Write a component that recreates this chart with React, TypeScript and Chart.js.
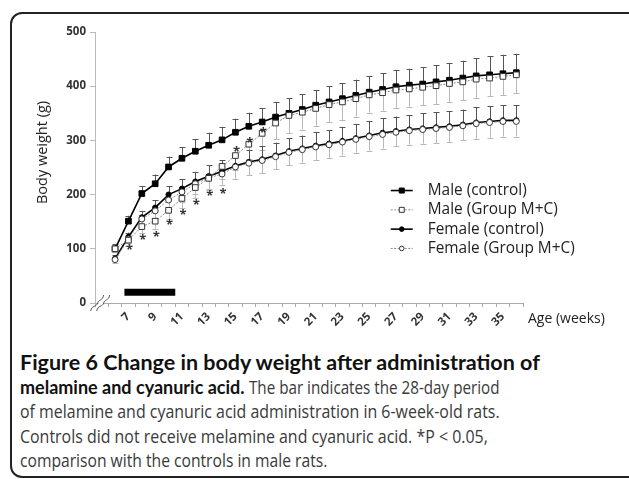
import React, { useEffect, useRef } from 'react';
import { Chart, registerables } from 'chart.js';

Chart.register(...registerables);

// ---------- data ----------
const weeks = [6, 7, 8, 9, 10, 11, 12, 13, 14, 15, 16, 17, 18, 19, 20, 21, 22, 23, 24, 25, 26, 27, 28, 29, 30, 31, 32, 33, 34, 35, 36];
const axisWeeks = [5, 6, 7, 8, 9, 10, 11, 12, 13, 14, 15, 16, 17, 18, 19, 20, 21, 22, 23, 24, 25, 26, 27, 28, 29, 30, 31, 32, 33, 34, 35, 36];
const labeledWeeks = [7, 9, 11, 13, 15, 17, 19, 21, 23, 25, 27, 29, 31, 33, 35];
const yTicks = [0, 100, 200, 300, 400, 500];

const maleControl = [100, 151, 202, 220, 251, 267, 280, 291, 301, 315, 326, 334, 343, 350, 357, 365, 371, 377, 383, 389, 394, 399, 402, 404, 408, 411, 415, 419, 421, 423, 425];
const maleControlSD = [8, 10, 14, 17, 19, 21, 22, 23, 24, 25, 25, 25, 27, 28, 28, 28, 29, 29, 29, 30, 30, 30, 30, 31, 31, 32, 32, 33, 34, 35, 35];
const maleMC = [100, 116, 141, 151, 171, 193, 213, 230, 252, 272, 293, 313, 332, 346, 352, 359, 366, 371, 377, 384, 388, 393, 395, 398, 401, 405, 408, 413, 415, 418, 421];
const maleMCSD = [6, 10, 12, 14, 16, 18, 20, 22, 24, 26, 28, 30, 30, 32, 32, 32, 32, 33, 33, 33, 33, 33, 33, 33, 34, 34, 34, 34, 34, 34, 34];
const femaleControl = [82, 122, 158, 176, 200, 211, 224, 234, 243, 253, 260, 265, 272, 280, 285, 290, 294, 299, 304, 309, 314, 317, 320, 322, 324, 326, 329, 333, 335, 337, 337];
const femaleControlSD = [6, 8, 12, 14, 16, 18, 18, 20, 20, 22, 22, 24, 24, 24, 24, 25, 25, 26, 26, 27, 27, 27, 27, 28, 28, 28, 28, 28, 28, 28, 28];
const femaleMC = [80, 118, 155, 170, 190, 205, 220, 231, 238, 251, 258, 263, 270, 278, 283, 288, 292, 297, 302, 307, 311, 315, 318, 320, 322, 324, 327, 331, 333, 335, 335];
const femaleMCSD = [6, 8, 12, 14, 16, 18, 18, 20, 20, 22, 22, 23, 23, 24, 24, 24, 25, 25, 25, 26, 26, 26, 26, 26, 27, 27, 27, 28, 28, 28, 28];

const sigWeeks = [7, 8, 9, 10, 11, 12, 13, 14, 15, 16, 17];
const sigMarkY = [103, 121, 127, 149, 167, 185, 202, 206, 283, 300, 319];

const dosingWeeks = [6.7, 10.5];
const dosingLevel = [20, 20];
const breakWeek = 5;

const FONT = "'Open Sans', 'DejaVu Sans', sans-serif";

const pts = (vals: number[]) => weeks.map((w, i) => ({ x: w, y: vals[i] }));

const overlayPlugin = {
  id: 'overlay',
  beforeDatasetsDraw(chart: any) {
    const { ctx, scales } = chart;
    const xs = scales.x, ys = scales.y;
    ctx.save();
    chart.data.datasets.forEach((ds: any) => {
      if (!ds.sd) return;
      ctx.strokeStyle = ds.sdColor;
      ctx.lineWidth = 1;
      ds.data.forEach((p: any, i: number) => {
        const px = Math.round(xs.getPixelForValue(p.x)) + 0.5;
        const py = ys.getPixelForValue(p.y);
        const pe = ys.getPixelForValue(p.y + ds.sdDir * ds.sd[i]);
        ctx.beginPath();
        ctx.moveTo(px, py);
        ctx.lineTo(px, pe);
        ctx.moveTo(px - 3, Math.round(pe) + 0.5);
        ctx.lineTo(px + 3, Math.round(pe) + 0.5);
        ctx.stroke();
      });
    });
    ctx.restore();
  },
  afterDatasetsDraw(chart: any) {
    const { ctx, scales, chartArea } = chart;
    const xs = scales.x, ys = scales.y;
    ctx.save();
    // significance asterisks
    ctx.fillStyle = '#333';
    ctx.font = `bold 13px ${FONT}`;
    ctx.textAlign = 'center';
    ctx.textBaseline = 'middle';
    sigWeeks.forEach((w, i) => {
      ctx.fillText('*', xs.getPixelForValue(w) + 1, ys.getPixelForValue(sigMarkY[i]) + 3);
    });
    // axis break marks
    const bx = xs.getPixelForValue(breakWeek);
    const by = chartArea.bottom;
    ctx.fillStyle = '#fff';
    ctx.beginPath();
    ctx.moveTo(bx - 8, by + 7);
    ctx.lineTo(bx + 2, by - 7);
    ctx.lineTo(bx + 7, by - 7);
    ctx.lineTo(bx - 3, by + 7);
    ctx.closePath();
    ctx.fill();
    ctx.strokeStyle = '#555';
    ctx.lineWidth = 1;
    [-3, 3].forEach((d) => {
      const cx = bx + d - 1;
      ctx.beginPath();
      ctx.moveTo(cx - 7, by + 8);
      ctx.bezierCurveTo(cx - 6, by + 2, cx - 1, by + 4, cx, by);
      ctx.bezierCurveTo(cx + 1, by - 4, cx + 5, by - 2, cx + 6, by - 8);
      ctx.stroke();
    });
    // axis titles
    ctx.fillStyle = '#222';
    ctx.font = `14px ${FONT}`;
    ctx.textAlign = 'left';
    ctx.textBaseline = 'middle';
    ctx.fillText('Age (weeks)', chartArea.right + 5, chartArea.bottom + 16);
    ctx.save();
    ctx.translate(43, (chartArea.top + chartArea.bottom) / 2 - 15);
    ctx.rotate(-Math.PI / 2);
    ctx.textAlign = 'center';
    ctx.font = `14.5px ${FONT}`;
    ctx.fillText('Body weight (g)', 0, 0);
    ctx.restore();
    // legend
    const lx = chartArea.left + 0.691 * chartArea.width;
    const ly0 = chartArea.top + 0.585 * (chartArea.bottom - chartArea.top);
    const rowH = 19.3;
    let row = 0;
    chart.data.datasets.forEach((ds: any) => {
      if (!ds.inLegend) return;
      const y = ly0 + row * rowH;
      row++;
      ctx.strokeStyle = ds.borderColor;
      ctx.lineWidth = ds.borderWidth;
      ctx.setLineDash(ds.borderDash || []);
      ctx.beginPath();
      ctx.moveTo(lx, y);
      ctx.lineTo(lx + 22, y);
      ctx.stroke();
      ctx.setLineDash([]);
      ctx.fillStyle = ds.pointBackgroundColor;
      ctx.strokeStyle = ds.pointBorderColor;
      ctx.lineWidth = 1;
      const mx = lx + 11;
      ctx.beginPath();
      if (ds.pointStyle === 'rect') ctx.rect(mx - 2.5, y - 2.5, 5, 5);
      else ctx.arc(mx, y, 2.3, 0, Math.PI * 2);
      ctx.fill();
      ctx.stroke();
      ctx.fillStyle = '#222';
      ctx.font = `15.4px ${FONT}`;
      ctx.textAlign = 'left';
      ctx.textBaseline = 'middle';
      ctx.fillText(ds.label, lx + 37, y);
    });
    ctx.restore();
  },
};

export default function App() {
  const canvasRef = useRef<HTMLCanvasElement | null>(null);

  useEffect(() => {
    const canvas = canvasRef.current;
    if (!canvas) return;
    const chart = new Chart(canvas, {
      type: 'line',
      data: {
        datasets: [
          {
            label: 'Male (control)', data: pts(maleControl), inLegend: true,
            sd: maleControlSD, sdDir: 1, sdColor: '#555',
            borderColor: '#000', borderWidth: 1.6, pointStyle: 'rect', pointRadius: 4,
            pointBackgroundColor: '#000', pointBorderColor: '#000', pointBorderWidth: 1, tension: 0, order: 2,
          } as any,
          {
            label: 'Male (Group M+C)', data: pts(maleMC), inLegend: true,
            sd: maleMCSD, sdDir: -1, sdColor: '#b8b8b8',
            borderColor: '#8a8a8a', borderWidth: 1, borderDash: [2, 1.5], pointStyle: 'rect', pointRadius: 4,
            pointBackgroundColor: '#fff', pointBorderColor: '#333', pointBorderWidth: 1, tension: 0, order: 1,
          } as any,
          {
            label: 'Female (control)', data: pts(femaleControl), inLegend: true,
            sd: femaleControlSD, sdDir: 1, sdColor: '#555',
            borderColor: '#000', borderWidth: 1.6, pointStyle: 'circle', pointRadius: 2.6,
            pointBackgroundColor: '#000', pointBorderColor: '#000', pointBorderWidth: 1, tension: 0, order: 4,
          } as any,
          {
            label: 'Female (Group M+C)', data: pts(femaleMC), inLegend: true,
            sd: femaleMCSD, sdDir: -1, sdColor: '#b8b8b8',
            borderColor: '#8a8a8a', borderWidth: 1, borderDash: [2, 1.5], pointStyle: 'circle', pointRadius: 3,
            pointBackgroundColor: '#fff', pointBorderColor: '#333', pointBorderWidth: 1, tension: 0, order: 3,
          } as any,
          {
            label: 'Administration period', data: dosingWeeks.map((w, i) => ({ x: w, y: dosingLevel[i] })),
            borderColor: '#000', borderWidth: 7, pointRadius: 0, borderCapStyle: 'butt', order: 5,
          } as any,
        ],
      },
      options: {
        animation: false,
        responsive: false,
        devicePixelRatio: 1,
        layout: { padding: { left: 0, top: 32, right: 106, bottom: 0 } },
        plugins: { legend: { display: false }, tooltip: { enabled: false } },
        scales: {
          x: {
            type: 'linear',
            min: axisWeeks[0] - 0.5,
            max: axisWeeks[axisWeeks.length - 1] + 0.5,
            afterBuildTicks: (s: any) => { s.ticks = axisWeeks.map((v) => ({ value: v })); },
            afterFit: (s: any) => { s.height = 42; },
            grid: { offset: true, drawOnChartArea: false, drawTicks: true, tickLength: 4, color: '#aaa' },
            border: { color: '#aaa', width: 1 },
            ticks: {
              autoSkip: false, minRotation: 45, maxRotation: 45, padding: 3,
              color: '#333', font: { family: FONT, size: 11.5, weight: 'bold' },
              callback: (v: any) => (labeledWeeks.includes(Number(v)) ? String(v) : ''),
            },
          },
          y: {
            min: yTicks[0],
            max: yTicks[yTicks.length - 1],
            afterBuildTicks: (s: any) => { s.ticks = yTicks.map((v) => ({ value: v })); },
            afterFit: (s: any) => { s.width = 95; },
            grid: { drawOnChartArea: false, drawTicks: true, tickLength: 5, color: '#bbb' },
            border: { color: '#bbb', width: 1 },
            ticks: { padding: 4, color: '#333', font: { family: FONT, size: 11.5, weight: 'bold' } },
          },
        },
      },
      plugins: [overlayPlugin],
    } as any);
    return () => chart.destroy();
  }, []);

  const bold: React.CSSProperties = { fontWeight: 700, fontFamily: "Lato, 'Open Sans', sans-serif", color: '#111' };
  const line: React.CSSProperties = { whiteSpace: 'nowrap', height: 24.6, lineHeight: '24.6px' };
  const narrow = (k: number): React.CSSProperties => ({
    display: 'inline-block', whiteSpace: 'pre', transform: `scaleX(${k})`, transformOrigin: 'left center',
    fontFamily: "'Open Sans', sans-serif", color: '#3a3a3a',
  });

  return (
    <div style={{ position: 'fixed', left: 0, top: 0, width: 629, height: 479, overflow: 'hidden', background: '#fff' }}>
      <div style={{ position: 'absolute', left: 10, top: 12, width: 700, height: 466, border: '2px solid #222', borderRadius: 12, boxSizing: 'border-box' }} />
      <canvas ref={canvasRef} width={629} height={345} style={{ position: 'absolute', left: 0, top: 0, width: 629, height: 345 }} />
      <div style={{ position: 'absolute', left: 20, top: 350, fontSize: 18 }}>
        <div style={{ ...line, ...bold, fontSize: 21.5 }}>Figure 6 Change in body weight after administration of</div>
        <div style={line}><span style={bold}>melamine and cyanuric acid.</span><span style={narrow(0.845)}> The bar indicates the 28-day period</span></div>
        <div style={line}><span style={narrow(0.885)}>of melamine and cyanuric acid administration in 6-week-old rats.</span></div>
        <div style={line}><span style={narrow(0.885)}>Controls did not receive melamine and cyanuric acid. *P &lt; 0.05,</span></div>
        <div style={line}><span style={narrow(0.87)}>comparison with the controls in male rats.</span></div>
      </div>
    </div>
  );
}
